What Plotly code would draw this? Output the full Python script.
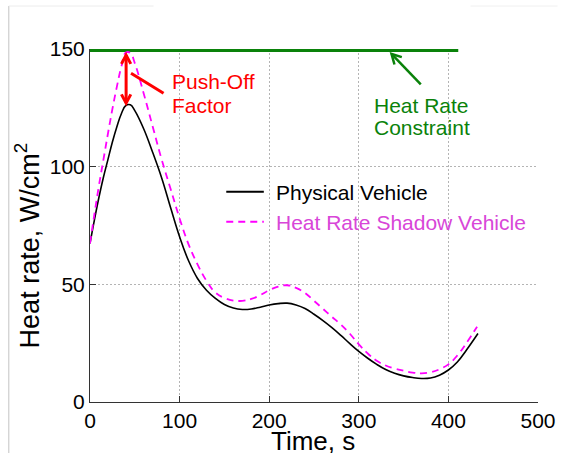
import math
import plotly.graph_objects as go

# ---- data -------------------------------------------------------------
time_physical = [0, 5, 10, 15, 20, 25, 30, 35, 40, 45, 50, 60, 70, 80, 90, 100,
                 110, 120, 130, 140, 150, 160, 170, 180, 190, 200, 210, 220, 230,
                 240, 250, 260, 270, 280, 290, 300, 310, 320, 330, 340, 350, 360,
                 370, 380, 390, 400, 410, 420, 433]
heat_physical = [67.4, 77.5, 87, 95.5, 103, 110.5, 117, 122.5, 126, 126.3, 123.8,
                 116, 106, 95.2, 82.5, 70.2, 60, 52.5, 47.5, 44, 41.4, 39.9, 39.3,
                 39.5, 40.3, 41.2, 41.8, 42, 41.2, 39.7, 37.3, 34.6, 31.6, 28.3,
                 24.8, 21.5, 18.6, 16, 13.8, 12.2, 11.1, 10.4, 10, 10.2, 11.4, 13.6,
                 17, 22, 29.1]

time_shadow = [0, 5, 10, 15, 20, 25, 30, 35, 40, 45, 50, 60, 70, 80, 90, 100,
               110, 120, 130, 140, 150, 160, 170, 180, 190, 200, 210, 220, 230,
               240, 250, 260, 270, 280, 290, 300, 310, 320, 330, 340, 350, 360,
               370, 380, 390, 400, 410, 420, 432]
heat_shadow = [67.4, 80, 92, 103, 114, 124.5, 134, 142.5, 148.5, 148.3, 144,
               131, 117, 103, 90.5, 78, 67, 58.5, 51.5, 46.5, 44.2, 43.1, 43, 43.8,
               45.4, 47.5, 49, 49.6, 48.5, 46.3, 43, 39.6, 36.2, 32.9, 29, 24.5,
               20.6, 17.5, 15.5, 14.2, 13.3, 12.5, 12.2, 12.6, 13.9, 16, 19.8, 25,
               32]

constraint_time = [0, 411]
constraint_value = [149.4, 149.4]

x_ticks = [0, 100, 200, 300, 400, 500]
y_ticks = [0, 50, 100, 150]

# ---- layout geometry --------------------------------------------------
W, H = 568, 453
ML, MR, MT, MB = 90, 20, 49, 51
PW, PH = W - ML - MR, H - MT - MB
XR, YR = [0, 500], [0, 150]
FONT = "Liberation Sans, Arial, Helvetica, sans-serif"

RED = "#ff0000"
GREEN = "#0a820a"
MAGENTA = "#ff00ff"


def paper_x(px):
    return (px - ML) / PW


def paper_y(py):
    return (H - MB - py) / PH


# data units per screen pixel
UX = (XR[1] - XR[0]) / PW
UY = (YR[1] - YR[0]) / PH

fig = go.Figure()

fig.add_trace(go.Scatter(
    x=constraint_time, y=constraint_value, mode="lines",
    line=dict(color=GREEN, width=3), showlegend=False, hoverinfo="skip"))
fig.add_trace(go.Scatter(
    x=time_physical, y=heat_physical, mode="lines", name="Physical Vehicle",
    line=dict(color="black", width=1.6, shape="spline", smoothing=1.2),
    showlegend=False))
fig.add_trace(go.Scatter(
    x=time_shadow, y=heat_shadow, mode="lines", name="Heat Rate Shadow Vehicle",
    line=dict(color=MAGENTA, width=1.8, dash="7px,5px", shape="spline",
              smoothing=1.2),
    showlegend=False))

shapes = []


def v_head(tx, ty, dirx, diry, length=10, spread=0.5):
    """Open V arrow head at (tx, ty); (dirx, diry) points back along the shaft
    in screen pixels (y downward)."""
    n = math.hypot(dirx, diry)
    ux, uy = dirx / n, diry / n
    c, s = math.cos(spread), math.sin(spread)
    pts = []
    for sg in (1, -1):
        rx = ux * c - uy * s * sg
        ry = ux * s * sg + uy * c
        pts.append((tx + rx * length * UX, ty - ry * length * UY))
    return "M {} {} L {} {} L {} {}".format(pts[0][0], pts[0][1], tx, ty,
                                            pts[1][0], pts[1][1])


# Push-off factor double arrow
arrow_t = 40.3
arrow_top, arrow_bottom = 147.4, 127.0
shapes.append(dict(type="line", xref="x", yref="y", x0=arrow_t, x1=arrow_t,
                   y0=arrow_bottom, y1=arrow_top,
                   line=dict(color=RED, width=3)))
shapes.append(dict(type="path", xref="x", yref="y",
                   path=v_head(arrow_t, arrow_top, 0, 1, length=10, spread=0.5),
                   line=dict(color=RED, width=3)))
shapes.append(dict(type="path", xref="x", yref="y",
                   path=v_head(arrow_t, arrow_bottom, 0, -1, length=10, spread=0.5),
                   line=dict(color=RED, width=3)))
# leader line to the label
shapes.append(dict(type="line", xref="x", yref="y", x0=45.8, y0=139.7,
                   x1=82.1, y1=131.2, line=dict(color=RED, width=3)))

# constraint arrow
g_tip = (336.5, 147.9)
g_tail = (369.2, 135.0)
shapes.append(dict(type="line", xref="x", yref="y", x0=g_tail[0], y0=g_tail[1],
                   x1=g_tip[0], y1=g_tip[1], line=dict(color=GREEN, width=2.5)))
shapes.append(dict(type="path", xref="x", yref="y",
                   path=v_head(g_tip[0], g_tip[1],
                               (g_tail[0] - g_tip[0]) / UX,
                               -(g_tail[1] - g_tip[1]) / UY,
                               length=11, spread=0.5),
                   line=dict(color=GREEN, width=2.5)))

# legend samples
shapes.append(dict(type="line", xref="paper", yref="paper",
                   x0=paper_x(229.3), x1=paper_x(267.7),
                   y0=paper_y(191.7), y1=paper_y(191.7),
                   line=dict(color="black", width=2)))
shapes.append(dict(type="line", xref="paper", yref="paper",
                   x0=paper_x(229.3), x1=paper_x(267.7),
                   y0=paper_y(221.7), y1=paper_y(221.7),
                   line=dict(color=MAGENTA, width=2, dash="7px,5px")))

# thin frame lines around the figure
shapes.append(dict(type="line", xref="paper", yref="paper",
                   x0=paper_x(7), x1=paper_x(7), y0=paper_y(6), y1=paper_y(453),
                   line=dict(color="#c4c4c4", width=1)))
shapes.append(dict(type="line", xref="paper", yref="paper",
                   x0=paper_x(7), x1=paper_x(155), y0=paper_y(6), y1=paper_y(6),
                   line=dict(color="#ececec", width=1)))
shapes.append(dict(type="line", xref="paper", yref="paper",
                   x0=paper_x(479), x1=paper_x(568), y0=paper_y(6), y1=paper_y(6),
                   line=dict(color="#f0f0f0", width=1)))

annotations = []


def label(text, px, py, color, size=21, xanchor="left", angle=0):
    annotations.append(dict(text=text, xref="paper", yref="paper",
                            x=paper_x(px), y=paper_y(py), xanchor=xanchor,
                            yanchor="middle", showarrow=False, textangle=angle,
                            borderpad=0,
                            font=dict(family=FONT, size=size, color=color)))


label("Push-Off", 173, 81.5, RED)
label("Factor", 173, 105.5, RED)
label("Heat Rate", 379.5, 105, GREEN)
label("Constraint", 379.5, 127, GREEN)
label("Physical Vehicle", 279, 192, "black")
label("Heat Rate Shadow Vehicle", 279, 222, "#d846d8")

# axis titles
label("Time, s", 317.5, 441, "black", size=26, xanchor="center")
label("Heat rate, W/cm<sup>2</sup>", 26, 245, "black", size=27,
      xanchor="center", angle=-90)

axis_common = dict(
    showline=True, linecolor="#333333", linewidth=1,
    ticks="inside", ticklen=6, tickcolor="#333333",
    showgrid=True, gridcolor="#b4b4b4", gridwidth=1, griddash="1.5px,2.5px",
    zeroline=False, mirror=False,
    tickfont=dict(family=FONT, size=21, color="black"),
)

fig.update_layout(
    width=W, height=H,
    margin=dict(l=ML, r=MR, t=MT, b=MB, pad=0),
    paper_bgcolor="white", plot_bgcolor="white",
    showlegend=False,
    shapes=shapes, annotations=annotations,
    xaxis=dict(range=XR, tickvals=x_ticks, ticktext=[str(v) for v in x_ticks],
               **axis_common),
    yaxis=dict(range=YR, tickvals=y_ticks, ticktext=[str(v) for v in y_ticks],
               **axis_common),
)

fig.write_html("out.html")
